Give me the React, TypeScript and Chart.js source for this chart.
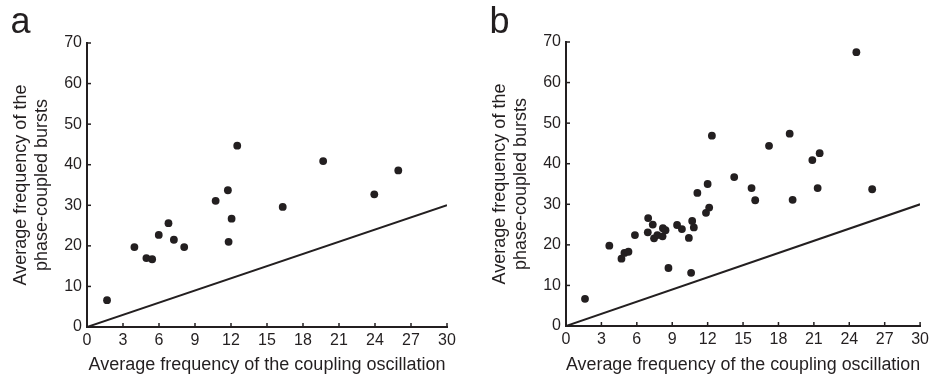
import React, { useEffect, useRef } from 'react';
import { Chart, registerables } from 'chart.js';

Chart.register(...registerables);

const INK = '#231f20';
const FONT = '"Liberation Sans", Arial, Helvetica, sans-serif';

// Axis settings
const xMin = 0;
const xMax = 30;
const xStep = 3;
const yMin = 0;
const yMax = 70;
const yStep = 10;

// Text
const panelLabels = ['a', 'b'];
const xAxisTitle = 'Average frequency of the coupling oscillation';
const yAxisTitle = ['Average frequency of the', 'phase-coupled bursts'];

// Identity line (y = x)
const diagonalX = [0, 30];
const diagonalY = [0, 30];

// Panel a data
const panelAX = [1.67, 3.95, 4.95, 5.43, 5.98, 6.79, 7.24, 8.1, 10.72, 11.74, 11.8, 12.05, 12.52, 16.31, 19.68, 23.94, 25.94];
const panelAY = [6.6, 19.7, 17.0, 16.7, 22.7, 25.6, 21.5, 19.7, 31.1, 33.7, 21.0, 26.7, 44.7, 29.6, 40.9, 32.7, 38.6];

// Panel b data
const panelBX = [1.61, 3.67, 4.7, 4.95, 5.29, 5.84, 6.96, 6.93, 7.35, 7.46, 7.74, 8.18, 8.21, 8.43, 8.68, 9.41, 9.82, 10.41, 10.6, 10.69, 10.83, 11.13, 11.86, 12.0, 12.13, 12.36, 14.25, 15.72, 16.03, 17.2, 18.95, 19.2, 20.87, 21.49, 21.32, 24.6, 25.94];
const panelBY = [6.7, 19.8, 16.6, 18.0, 18.3, 22.4, 26.6, 23.1, 25.0, 21.6, 22.4, 22.1, 24.1, 23.6, 14.3, 24.9, 23.9, 21.7, 13.1, 25.9, 24.3, 32.8, 27.9, 35.0, 29.2, 46.9, 36.7, 34.0, 31.0, 44.4, 47.4, 31.1, 40.9, 42.6, 34.0, 67.5, 33.7];

const inwardTicks = {
  id: 'inwardTicks',
  afterDraw(chart: any) {
    const { ctx, chartArea, scales } = chart;
    const len = 4;
    ctx.save();
    ctx.strokeStyle = INK;
    ctx.lineWidth = 1.5;
    const xs = scales.x;
    xs.ticks.forEach((t: any) => {
      const px = xs.getPixelForValue(t.value);
      ctx.beginPath();
      ctx.moveTo(px, chartArea.bottom);
      ctx.lineTo(px, chartArea.bottom - len);
      ctx.stroke();
    });
    const ys = scales.y;
    ys.ticks.forEach((t: any) => {
      const py = ys.getPixelForValue(t.value);
      ctx.beginPath();
      ctx.moveTo(chartArea.left, py);
      ctx.lineTo(chartArea.left + len, py);
      ctx.stroke();
    });
    ctx.restore();
  },
};

type PanelProps = {
  left: number;
  width: number;
  top: number;
  rightPad: number;
  xAxisHeight: number;
  yAxisWidth: number;
  xs: number[];
  ys: number[];
};

function Panel({ left, width, top, rightPad, xAxisHeight, yAxisWidth, xs, ys }: PanelProps) {
  const ref = useRef<HTMLCanvasElement | null>(null);
  useEffect(() => {
    if (!ref.current) return;
    const chart = new Chart(ref.current, {
      type: 'scatter',
      data: {
        datasets: [
          {
            type: 'line',
            data: diagonalX.map((x, i) => ({ x, y: diagonalY[i] })),
            borderColor: INK,
            borderWidth: 2,
            pointRadius: 0,
            fill: false,
          } as any,
          {
            type: 'scatter',
            data: xs.map((x, i) => ({ x, y: ys[i] })),
            backgroundColor: INK,
            borderColor: INK,
            borderWidth: 0,
            pointRadius: 3.9,
          } as any,
        ],
      },
      options: {
        responsive: false,
        animation: false,
        events: [],
        layout: { padding: { left: 0, right: rightPad, top, bottom: 0 } },
        plugins: { legend: { display: false }, tooltip: { enabled: false } },
        scales: {
          x: {
            type: 'linear',
            min: xMin,
            max: xMax,
            grid: { display: false, drawTicks: false },
            border: { display: true, color: INK, width: 2 },
            ticks: { stepSize: xStep, color: INK, font: { family: FONT, size: 16 }, padding: 4, maxRotation: 0 },
            title: {
              display: true,
              text: xAxisTitle,
              color: INK,
              font: { family: FONT, size: 18, lineHeight: '21px' },
              padding: { top: 0, bottom: 4 },
            },
            afterFit: (s: any) => {
              s.height = xAxisHeight;
            },
          },
          y: {
            type: 'linear',
            min: yMin,
            max: yMax,
            grid: { display: false, drawTicks: false },
            border: { display: true, color: INK, width: 2 },
            ticks: { stepSize: yStep, color: INK, font: { family: FONT, size: 16 }, padding: 5 },
            title: {
              display: true,
              text: yAxisTitle,
              color: INK,
              font: { family: FONT, size: 18, lineHeight: '21px' },
              padding: { top: 11, bottom: 0 },
            },
            afterFit: (s: any) => {
              s.width = yAxisWidth;
            },
          },
        },
      } as any,
      plugins: [inwardTicks],
    });
    return () => chart.destroy();
  }, []);
  return (
    <canvas
      ref={ref}
      width={width}
      height={380}
      style={{ position: 'absolute', left, top: 0, width, height: 380 }}
    />
  );
}

export default function App() {
  return (
    <div style={{ position: 'absolute', left: 0, top: 0, width: 933, height: 380, background: '#fff', overflow: 'hidden' }}>
      <Panel left={0} width={479} top={43} rightPad={32} xAxisHeight={53} yAxisWidth={87} xs={panelAX} ys={panelAY} />
      <Panel left={479} width={454} top={42} rightPad={8} xAxisHeight={54} yAxisWidth={87} xs={panelBX} ys={panelBY} />
      <div style={{ position: 'absolute', left: 10.5, top: 2.5, fontFamily: FONT, fontSize: 36, lineHeight: '36px', color: INK }}>{panelLabels[0]}</div>
      <div style={{ position: 'absolute', left: 489.5, top: 2.5, fontFamily: FONT, fontSize: 36, lineHeight: '36px', color: INK }}>{panelLabels[1]}</div>
    </div>
  );
}
